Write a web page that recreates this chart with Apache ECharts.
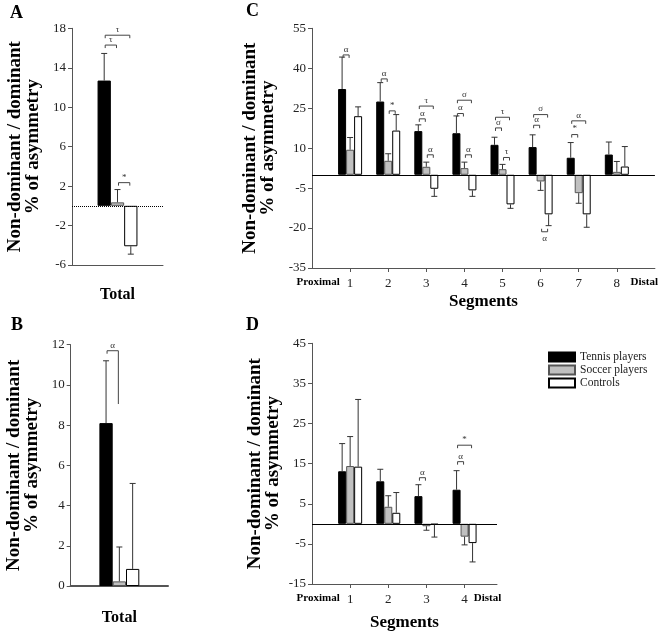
<!DOCTYPE html>
<html><head><meta charset="utf-8">
<script src="https://cdn.jsdelivr.net/npm/echarts@6/dist/echarts.min.js"></script>
<style>html,body{margin:0;padding:0;background:#fff}#c{width:661px;height:633px}</style>
</head><body><div id="c"></div>
<script>
// ---------- data ----------
const groupNames = ['Tennis players', 'Soccer players', 'Controls'];
// Panel A (Total)
const aValues = [12.7, 0.35, -4.1];
const aErrEnds = [15.45, 1.65, -4.9];
// Panel B (Total)
const bValues = [8.1, 0.23, 0.85];
const bErrEnds = [11.2, 1.94, 5.1];
// Panel C (segments 1-8)
const cSegments = [1, 2, 3, 4, 5, 6, 7, 8];
const cTennis = [32.2, 27.5, 16.4, 15.6, 11.25, 10.4, 6.4, 7.6];
const cTennisErr = [44.2, 34.6, 18.75, 22.1, 14.1, 15.0, 12.1, 12.3];
const cSoccer = [9.4, 5.25, 3.0, 2.5, 2.1, -2.5, -6.9, 1.1];
const cSoccerErr = [14.0, 7.9, 4.75, 4.75, 3.9, -5.85, -10.7, 5.0];
const cControl = [22.0, 16.6, -5.25, -5.85, -11.1, -14.85, -14.85, 3.1];
const cControlErr = [25.5, 22.6, -8.1, -8.1, -12.6, -19.1, -19.7, 10.6];
// Panel D (segments 1-4)
const dSegments = [1, 2, 3, 4];
const dTennis = [13.1, 10.6, 6.9, 8.5];
const dTennisErr = [20.0, 13.6, 9.75, 13.25];
const dSoccer = [14.4, 4.25, -0.6, -3.2];
const dSoccerErr = [21.75, 7.0, -1.6, -5.25];
const dControl = [14.25, 2.75, -0.2, -4.8];
const dControlErr = [31.0, 7.8, -3.3, -9.5];
// significance brackets: [x, level, fromBar, toBar, symbol, rightEnd?, below?]
const aBrackets = [[0, 17.3, -1, 1, 'τ'], [0, 16.3, -1, 0, 'τ'], [0, 2.35, 0, 1, '*']];
const bBrackets = [[0, 11.7, -1, 0, 'α', 9.05]];
const cBrackets = [
  [1, 45, -1, 0, 'α'],
  [2, 36, -1, 0, 'α'], [2, 24, 0, 1, '*'],
  [3, 25.8, -1, 1, 'τ'], [3, 21, -1, 0, 'α'], [3, 7.5, 0, 1, 'α'],
  [4, 28, -1, 1, 'σ'], [4, 23, -1, 0, 'α'], [4, 7.5, 0, 1, 'α'],
  [5, 21.6, -1, 1, 'τ'], [5, 17.6, -1, 0, 'σ'], [5, 6.5, 0, 1, 'τ'],
  [6, 22.6, -1, 1, 'σ'], [6, 18.6, -1, 0, 'α'], [6, -21.4, 0, 1, 'α', null, true],
  [7, 20.25, -1, 1, 'α'], [7, 15.1, -1, 0, '*']
];
const dBrackets = [[3, 11.5, -1, 0, 'α'], [4, 15.5, -1, 0, 'α'], [4, 19.6, -1, 1, '*']];
const cTickValues = [1, 2, 3, 4, 5, 6, 7, 8];
const dTickValues = [1, 2, 3, 4];
const cEndLabels = [0.16, 8.72];
const dEndLabels = [0.16, 4.6];
const yTitle = 'Non-dominant / dominant\n% of asymmetry';

// ---------- styles ----------
const FONT = 'Liberation Serif';
const fills = ['#000000', '#c0c0c0', '#ffffff'];
const borders = ['#000000', '#555555', '#000000'];
const AX = '#555';

function yAxis(gi, min, max, interval) {
  return {
    type: 'value', gridIndex: gi, min, max, interval,
    axisLine: { show: true, lineStyle: { color: AX } },
    axisTick: { show: true, length: 4, lineStyle: { color: AX } },
    axisLabel: { fontFamily: FONT, fontSize: 13, color: '#222', margin: 6 },
    splitLine: { show: false },
    name: yTitle, nameLocation: 'middle', nameRotate: 90, nameGap: 30,
    nameTextStyle: { fontFamily: FONT, fontWeight: 'bold', fontSize: 19, lineHeight: 18, color: '#000' }
  };
}
function catX(gi, gap, lw) {
  return {
    type: 'category', gridIndex: gi, data: ['Total'],
    axisLine: { onZero: false, lineStyle: { color: AX, width: lw } },
    axisTick: { show: false }, axisLabel: { show: false },
    name: 'Total', nameLocation: 'middle', nameGap: gap,
    nameTextStyle: { fontFamily: FONT, fontWeight: 'bold', fontSize: 16, color: '#000' }
  };
}
function valX(gi, max, ticks, ends, gap) {
  const labelVals = [ends[0]].concat(ticks, [ends[1]]);
  return {
    type: 'value', gridIndex: gi, min: 0, max,
    axisLine: { onZero: false, lineStyle: { color: AX } },
    axisTick: { show: true, length: 4, customValues: ticks, lineStyle: { color: AX } },
    axisLabel: {
      customValues: labelVals, margin: 9, fontFamily: FONT, fontSize: 13, color: '#222',
      formatter: v => v === ends[0] ? '{b|Proximal}' : (v === ends[1] ? '{b|Distal}' : String(v)),
      rich: { b: { fontFamily: FONT, fontWeight: 'bold', fontSize: 11, color: '#000' } }
    },
    splitLine: { show: false },
    name: 'Segments', nameLocation: 'middle', nameGap: gap,
    nameTextStyle: { fontFamily: FONT, fontWeight: 'bold', fontSize: 17, color: '#000' }
  };
}
function bars(gi, xs, valsArr, bw, zeroLine) {
  return valsArr.map((vals, g) => {
    const s = {
      type: 'bar', name: groupNames[g], xAxisIndex: gi, yAxisIndex: gi,
      data: xs ? xs.map((x, i) => [x, vals[i]]) : vals,
      barWidth: bw, barGap: '0%', silent: true,
      itemStyle: { color: fills[g], borderColor: borders[g], borderWidth: 1 }
    };
    if (g === 0 && zeroLine) {
      s.markLine = { silent: true, symbol: 'none', label: { show: false },
        lineStyle: { color: '#000', width: 1, type: zeroLine }, data: [{ yAxis: 0 }] };
    }
    return s;
  });
}
function errors(gi, xs, valsArr, endsArr, bw) {
  const rows = [];
  valsArr.forEach((vals, g) => vals.forEach((v, i) => rows.push([xs ? xs[i] : 0, v, endsArr[g][i], g - 1])));
  return {
    type: 'custom', xAxisIndex: gi, yAxisIndex: gi, silent: true, z: 5, data: rows,
    renderItem: (params, api) => {
      const x = api.value(0);
      const a = api.coord([x, api.value(1)]);
      const b = api.coord([x, api.value(2)]);
      const cx = a[0] + api.value(3) * bw;
      return { type: 'group', children: [
        { type: 'line', shape: { x1: cx, y1: a[1], x2: cx, y2: b[1] }, style: { stroke: '#333', lineWidth: 1 } },
        { type: 'line', shape: { x1: cx - 3, y1: b[1], x2: cx + 3, y2: b[1] }, style: { stroke: '#333', lineWidth: 1 } }
      ] };
    }
  };
}
function brackets(gi, list, bw) {
  return {
    type: 'custom', xAxisIndex: gi, yAxisIndex: gi, silent: true, z: 6,
    data: list.map(r => [r[0], r[1], r[2], r[3], r[5] == null ? r[1] : r[5]]),
    renderItem: (params, api) => {
      const r = list[params.dataIndex];
      const x = api.value(0);
      const p = api.coord([x, api.value(1)]);
      const x1 = p[0] + api.value(2) * bw + 1, x2 = p[0] + api.value(3) * bw - 1;
      const below = !!r[6];
      const d = below ? -3 : 3;
      const yR = r[5] == null ? p[1] + d : api.coord([x, api.value(4)])[1];
      return { type: 'group', children: [
        { type: 'polyline', shape: { points: [[x1, p[1] + d], [x1, p[1]], [x2, p[1]], [x2, yR]] },
          style: { stroke: '#444', lineWidth: 1, fill: null } },
        { type: 'text', x: (x1 + x2) / 2, y: below ? p[1] + 2 : p[1] - 1,
          style: { text: r[4], fontFamily: FONT, fontSize: 9, fill: '#333', align: 'center',
            verticalAlign: below ? 'top' : 'bottom' } }
      ] };
    }
  };
}

const chart = echarts.init(document.getElementById('c'), null, { renderer: 'canvas' });
const BWA = 13.3, BWC = 8;
const one = arr => arr.map(v => [v]);
chart.setOption({
  animation: false,
  backgroundColor: '#fff',
  textStyle: { fontFamily: FONT },
  grid: [
    { left: 72, top: 28.3, width: 91, height: 236.7 },
    { left: 70.7, top: 344.7, width: 97.3, height: 241.3 },
    { left: 312, top: 28.3, width: 343, height: 239.7 },
    { left: 312, top: 343.3, width: 185, height: 240.7 }
  ],
  xAxis: [catX(0, 22, 1), catX(1, 24, 2), valX(2, 9, cTickValues, cEndLabels, 25), valX(3, 4.85, dTickValues, dEndLabels, 30)],
  yAxis: [yAxis(0, -6, 18, 4), yAxis(1, 0, 12, 2), yAxis(2, -35, 55, 15), yAxis(3, -15, 45, 10)],
  legend: {
    orient: 'vertical', left: 548, top: 351, padding: 0, itemWidth: 26, itemHeight: 9, itemGap: 1,
    icon: 'rect', data: groupNames,
    textStyle: { fontFamily: FONT, fontSize: 11.5, color: '#222' }
  },
  graphic: [
    { type: 'text', left: 10, top: 4, style: { text: 'A', fontFamily: FONT, fontWeight: 'bold', fontSize: 18, fill: '#000' } },
    { type: 'text', left: 11, top: 316, style: { text: 'B', fontFamily: FONT, fontWeight: 'bold', fontSize: 18, fill: '#000' } },
    { type: 'text', left: 246, top: 2, style: { text: 'C', fontFamily: FONT, fontWeight: 'bold', fontSize: 18, fill: '#000' } },
    { type: 'text', left: 246, top: 316, style: { text: 'D', fontFamily: FONT, fontWeight: 'bold', fontSize: 18, fill: '#000' } }
  ],
  series: [].concat(
    bars(0, null, one(aValues), BWA, 'dotted'),
    [errors(0, null, one(aValues), one(aErrEnds), BWA), brackets(0, aBrackets, BWA)],
    bars(1, null, one(bValues), BWA, null),
    [errors(1, null, one(bValues), one(bErrEnds), BWA), brackets(1, bBrackets, BWA)],
    bars(2, cSegments, [cTennis, cSoccer, cControl], BWC, 'solid'),
    [errors(2, cSegments, [cTennis, cSoccer, cControl], [cTennisErr, cSoccerErr, cControlErr], BWC), brackets(2, cBrackets, BWC)],
    bars(3, dSegments, [dTennis, dSoccer, dControl], BWC, 'solid'),
    [errors(3, dSegments, [dTennis, dSoccer, dControl], [dTennisErr, dSoccerErr, dControlErr], BWC), brackets(3, dBrackets, BWC)]
  )
});
</script></body></html>
